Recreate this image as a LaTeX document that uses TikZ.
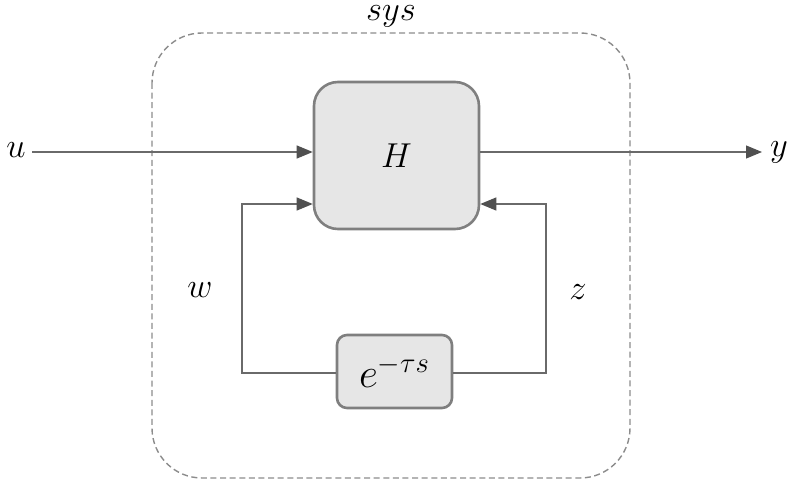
\documentclass[tikz,border=0pt]{standalone}
\usetikzlibrary{arrows.meta}
\definecolor{boxfill}{HTML}{E6E6E6}
\definecolor{boxline}{HTML}{7F7F7F}
\definecolor{wire}{HTML}{6A6A6A}
\definecolor{tipc}{HTML}{505050}
\begin{document}
\begin{tikzpicture}[x=0.5pt,y=-0.5pt,
  blk/.style={draw=boxline,line width=1.3pt,fill=boxfill,inner sep=0pt},
  wirestyle/.style={draw=wire,line width=0.6pt},
  arr/.style={wirestyle,-{Triangle[length=8pt,width=6.5pt,fill=tipc,color=tipc]}},
  lbl/.style={inner sep=0pt,font=\fontsize{16}{18}\selectfont}]
\useasboundingbox (0,0) rectangle (794,492);
% dashed system boundary
\draw[draw=gray!90,line width=0.7pt,dash pattern=on 3pt off 1.8pt,rounded corners=25pt]
  (152,33) rectangle (630,478);
\node[lbl,anchor=base] (sys) at (391,21) {$sys$};
% blocks
\node[blk,rounded corners=12pt,minimum width=82.5pt,minimum height=73.5pt] (H) at (396.5,155.5) {\fontsize{18}{20}\selectfont$H$};
\node[blk,rounded corners=5pt,minimum width=57.5pt,minimum height=36.5pt] (D) at (394.5,371.5) {\fontsize{20}{22}\selectfont$e^{-\tau s}$};
% external signals
\node[lbl] (u) at (16,150) {$u$};
\node[lbl] (y) at (779,152) {$y$};
\coordinate (uin) at (32,152);
\coordinate (yout) at (762,152);
\draw[arr] (uin) -- (uin -| H.west);
\draw[arr] (H.east |- yout) -- (yout);
% feedback loop
\coordinate (wl) at (242,373);
\coordinate (zr) at (546,373);
\draw[arr] (D.west |- wl) -- (wl) -- (242,204) -- (H.west |- 0,204);
\draw[arr] (D.east |- zr) -- (zr) -- (546,204) -- (H.east |- 0,204);
\node[lbl] (w) at (200,290) {$w$};
\node[lbl] (z) at (578,292) {$z$};
\end{tikzpicture}
\end{document}
